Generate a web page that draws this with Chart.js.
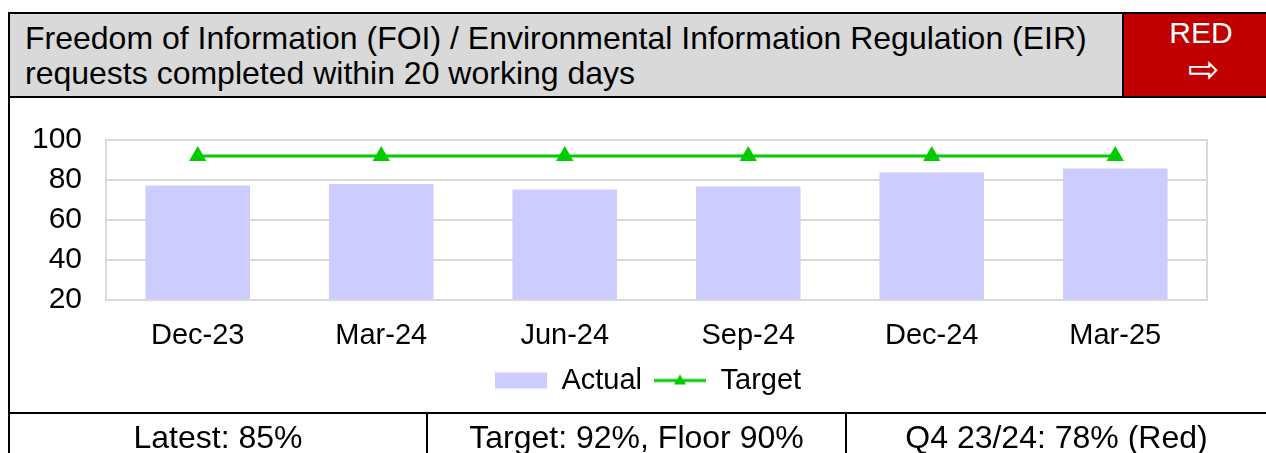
<!DOCTYPE html>
<html>
<head>
<meta charset="utf-8">
<script src="https://cdn.jsdelivr.net/npm/chart.js@4.4.1/dist/chart.umd.min.js"></script>
<style>
  body { margin: 0; width: 1266px; height: 453px; background: #fff; overflow: hidden; position: relative;
         font-family: "Liberation Sans", Arial, sans-serif; color: #000; }
  .header { position: absolute; left: 8px; top: 12px; width: 1258px; height: 82px;
            background: #d9d9d9; border: 2px solid #000; border-right: none; }
  .title { position: absolute; left: 15px; top: 7px; font-size: 32px; line-height: 35px; }
  .rag { position: absolute; left: 1112px; top: 0; width: 146px; height: 82px; background: #c00000;
         border-left: 2px solid #000; color: #fff; text-align: center; }
  .rag .word { font-size: 30px; line-height: 30px; margin-top: 4px; padding-left: 8px; }
  .rag .arrow { font-family: "DejaVu Sans", sans-serif; font-size: 38px; line-height: 38px; margin-top: 2px; padding-left: 14px; }
  .leftline { position: absolute; left: 8px; top: 96px; width: 2px; height: 357px; background: #000; }
  .wrap { position: absolute; left: 10px; top: 98px; width: 1256px; height: 315px; }
  .footer { position: absolute; left: 8px; top: 412px; width: 1258px; height: 41px; border-top: 2px solid #000; }
  .cell { position: absolute; top: 0; height: 41px; line-height: 47px; font-size: 32px; text-align: center; }
  .c1 { left: 2px; width: 416px; border-right: 2px solid #000; }
  .c2 { left: 420px; width: 417px; border-right: 2px solid #000; }
  .c3 { left: 839px; width: 419px; }
</style>
</head>
<body>
<div class="header">
  <div class="title">Freedom of Information (FOI) / Environmental Information Regulation (EIR)<br>requests completed within 20 working days</div>
  <div class="rag"><div class="word">RED</div><div class="arrow">⇨</div></div>
</div>
<div class="leftline"></div>
<div class="wrap"><canvas id="chart"></canvas></div>
<div class="footer">
  <div class="cell c1">Latest: 85%</div>
  <div class="cell c2">Target: 92%, Floor 90%</div>
  <div class="cell c3">Q4 23/24: 78% (Red)</div>
</div>
<script>
const quarters = ['Dec-23', 'Mar-24', 'Jun-24', 'Sep-24', 'Dec-24', 'Mar-25'];
const actual = [77.3, 78, 75.3, 76.7, 83.7, 85.7];
const target = [92, 92, 92, 92, 92, 92];
const yTicks = [20, 40, 60, 80, 100];

const barColor = '#ccccff';
const lineColor = '#00cc00';
const font = "'Liberation Sans', Arial, sans-serif";

// legend swatches drawn on small canvases
function swatch(kind) {
  const c = document.createElement('canvas');
  c.width = 52; c.height = 18;
  const g = c.getContext('2d');
  if (kind === 'bar') {
    g.fillStyle = barColor;
    g.fillRect(0, 1, 52, 16);
  } else {
    g.strokeStyle = lineColor; g.lineWidth = 3;
    g.beginPath(); g.moveTo(0, 9); g.lineTo(52, 9); g.stroke();
    g.fillStyle = lineColor;
    g.beginPath(); g.moveTo(26, 3); g.lineTo(32, 13); g.lineTo(20, 13); g.closePath(); g.fill();
  }
  return c;
}

const plotFrame = {
  id: 'plotFrame',
  afterDatasetsDraw(chart) {
    const a = chart.chartArea, ctx = chart.ctx;
    ctx.save();
    ctx.strokeStyle = '#d9d9d9'; ctx.lineWidth = 2;
    ctx.strokeRect(a.left, a.top, a.right - a.left, a.bottom - a.top);
    ctx.restore();
  }
};

new Chart(document.getElementById('chart'), {
  data: {
    labels: quarters,
    datasets: [
      {
        type: 'line', label: 'Target', data: target,
        borderColor: lineColor, backgroundColor: lineColor, borderWidth: 3,
        pointStyle: 'triangle', pointRadius: 7, pointHoverRadius: 7, order: 0
      },
      {
        type: 'bar', label: 'Actual', data: actual,
        backgroundColor: barColor, barPercentage: 0.57, categoryPercentage: 1, order: 1
      }
    ]
  },
  options: {
    responsive: true,
    maintainAspectRatio: false,
    animation: false,
    layout: { padding: { top: 35, right: 0, left: 20, bottom: 8 } },
    scales: {
      x: {
        grid: { display: false },
        border: { display: false },
        ticks: { color: '#000', font: { family: font, size: 29 }, padding: 11 },
        afterFit(s) { s.height = 54; }
      },
      y: {
        min: 20, max: 100,
        afterBuildTicks(s) { s.ticks = yTicks.map(v => ({ value: v })); },
        grid: { color: '#d9d9d9', lineWidth: 2, drawTicks: false },
        border: { display: false },
        ticks: { color: '#000', font: { family: font, size: 30 }, padding: 24 },
        afterFit(s) { s.width = 76; }
      },
      // empty right-hand axis only reserves the space right of the plot
      yRight: {
        position: 'right', min: 20, max: 100,
        grid: { display: false }, border: { display: false },
        ticks: { display: false },
        afterFit(s) { s.width = 59; }
      }
    },
    plugins: {
      tooltip: { enabled: false },
      legend: {
        position: 'bottom',
        reverse: true,
        labels: {
          color: '#000', font: { family: font, size: 29 },
          usePointStyle: true, pointStyleWidth: 52, boxHeight: 18, padding: 12,
          generateLabels(chart) {
            const items = Chart.defaults.plugins.legend.labels.generateLabels(chart);
            items.forEach(it => { it.pointStyle = swatch(it.text === 'Actual' ? 'bar' : 'line'); });
            return items;
          }
        }
      }
    }
  },
  plugins: [plotFrame]
});
</script>
</body>
</html>
